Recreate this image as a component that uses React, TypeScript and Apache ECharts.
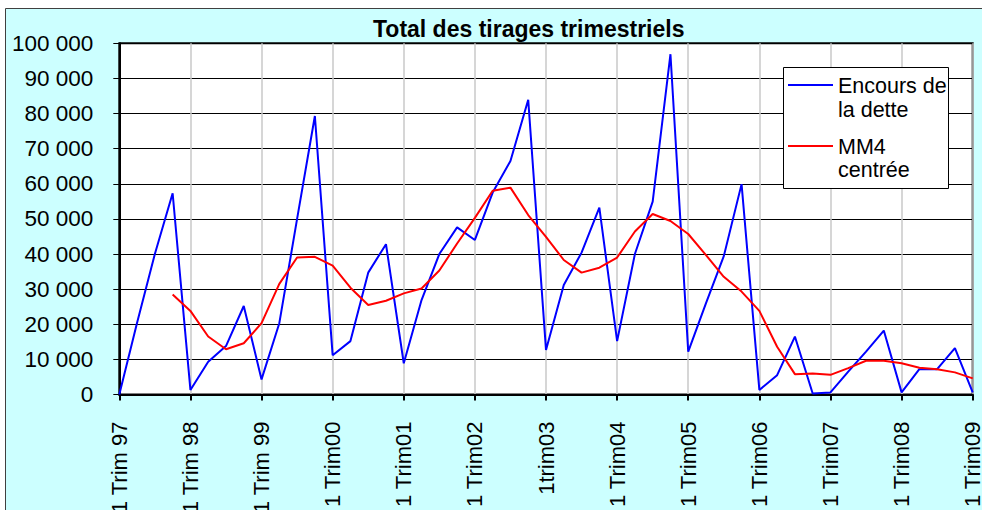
import React, { useEffect, useRef } from "react";
import * as echarts from "echarts";

// Quarterly categories (only the first quarter of each year is labelled)
const categories: string[] = [
  "1 Trim 97", "2 Trim 97", "3 Trim 97", "4 Trim 97",
  "1 Trim 98", "2 Trim 98", "3 Trim 98", "4 Trim 98",
  "1 Trim 99", "2 Trim 99", "3 Trim 99", "4 Trim 99",
  "1 Trim00", "2 Trim00", "3 Trim00", "4 Trim00",
  "1 Trim01", "2 Trim01", "3 Trim01", "4 Trim01",
  "1 Trim02", "2 Trim02", "3 Trim02", "4 Trim02",
  "1trim03", "2trim03", "3trim03", "4trim03",
  "1 Trim04", "2 Trim04", "3 Trim04", "4 Trim04",
  "1 Trim05", "2 Trim05", "3 Trim05", "4 Trim05",
  "1 Trim06", "2 Trim06", "3 Trim06", "4 Trim06",
  "1 Trim07", "2 Trim07", "3 Trim07", "4 Trim07",
  "1 Trim08", "2 Trim08", "3 Trim08", "4 Trim08",
  "1 Trim09",
];

// Encours de la dette (quarterly totals)
const encours: number[] = [
  0, 20400, 40000, 57300,
  1300, 9300, 13800, 25200,
  4300, 20300, 50000, 79300,
  11200, 15200, 34700, 42800,
  8900, 26900, 40000, 47600,
  44000, 57500, 66500, 83900,
  12700, 31200, 40400, 53200,
  15200, 40000, 54900, 96900,
  12200, 26000, 39400, 59900,
  1300, 5500, 16500, 300,
  600, 6500, 12200, 18200,
  600, 7200, 7200, 13200,
  600,
];

// MM4 centrée (centred 4-quarter moving average), starting at 4 Trim 97
const mm4: (number | null)[] = [
  null, null, null, 28500,
  23800, 16500, 12900, 14600,
  20300, 31500, 39000, 39200,
  36700, 30400, 25500, 26700,
  28800, 30200, 35300, 43000,
  50300, 58000, 58900, 51100,
  44900, 38300, 34700, 36100,
  39000, 46400, 51400, 49400,
  45700, 39700, 33500, 29300,
  23800, 13600, 5800, 6000,
  5600, 7500, 9600, 9600,
  8900, 7600, 7200, 6300,
  4600,
];

const titleText = "Total des tirages trimestriels";
const legendNames = ["Encours de\nla dette", "MM4\ncentrée"];

const FONT = "'Liberation Sans', Arial, sans-serif";

function formatThousands(v: number): string {
  return String(v).replace(/\B(?=(\d{3})+(?!\d))/g, " ");
}

export default function App() {
  const ref = useRef<HTMLDivElement>(null);

  useEffect(() => {
    document.body.style.margin = "0";
    if (!ref.current) return;
    const chart = echarts.init(ref.current, undefined, { renderer: "svg" });

    const legendX = 783.5;
    const legendY = 67.5;

    chart.setOption({
      animation: false,
      backgroundColor: "#ffffff",
      textStyle: { fontFamily: FONT },
      grid: {
        left: 119.3,
        right: 9.3,
        top: 43.3,
        bottom: 115.5,
        show: true,
        backgroundColor: "#ffffff",
        borderColor: "#000000",
        borderWidth: 2,
        containLabel: false,
        outerBoundsMode: "none",
      },
      xAxis: {
        type: "category",
        data: categories,
        boundaryGap: false,
        axisLine: { show: true, lineStyle: { color: "#000", width: 2 } },
        axisTick: {
          show: true,
          interval: 3,
          length: 6,
          lineStyle: { color: "#000", width: 2 },
        },
        axisLabel: {
          interval: 3,
          rotate: 90,
          margin: 27,
          color: "#000",
          fontSize: 22,
          fontFamily: FONT,
          hideOverlap: false,
        },
        splitLine: {
          show: true,
          interval: 3,
          lineStyle: { color: "#c8c8c8", width: 1.5 },
        },
      },
      yAxis: {
        type: "value",
        min: 0,
        max: 100000,
        interval: 10000,
        axisLine: { show: true, lineStyle: { color: "#000", width: 2 } },
        axisTick: {
          show: true,
          length: 6,
          lineStyle: { color: "#000", width: 1 },
        },
        axisLabel: {
          margin: 26,
          color: "#000",
          fontSize: 22.5,
          fontFamily: FONT,
          formatter: (v: number) => formatThousands(v),
        },
        splitLine: { show: true, lineStyle: { color: "#000", width: 1 } },
      },
      series: [
        {
          name: legendNames[0],
          type: "line",
          data: encours,
          symbol: "none",
          lineStyle: { color: "#0000ff", width: 2 },
          itemStyle: { color: "#0000ff" },
          z: 3,
        },
        {
          name: legendNames[1],
          type: "line",
          data: mm4,
          symbol: "none",
          connectNulls: false,
          lineStyle: { color: "#ff0000", width: 2 },
          itemStyle: { color: "#ff0000" },
          z: 4,
        },
      ],
      graphic: [
        {
          type: "rect",
          z: -100,
          silent: true,
          shape: { x: 5.5, y: 8.5, width: 1000, height: 600 },
          style: { fill: "#ccffff", stroke: "#404040", lineWidth: 1 },
        },
        {
          type: "text",
          z: 10,
          x: 373,
          y: 29,
          style: {
            text: titleText,
            fill: "#000",
            font: `bold 23px ${FONT}`,
            textAlign: "left",
            textVerticalAlign: "middle",
          },
        },
        {
          type: "group",
          z: 100,
          children: [
            {
              type: "rect",
              z: 100,
              shape: { x: legendX, y: legendY, width: 165, height: 121 },
              style: { fill: "#ffffff", stroke: "#000", lineWidth: 1 },
            },
            {
              type: "line",
              z: 101,
              shape: { x1: 788, y1: 85, x2: 833, y2: 85 },
              style: { stroke: "#0000ff", lineWidth: 2 },
            },
            {
              type: "line",
              z: 101,
              shape: { x1: 788, y1: 146, x2: 833, y2: 146 },
              style: { stroke: "#ff0000", lineWidth: 2 },
            },
            {
              type: "text",
              z: 101,
              x: 838,
              y: 86,
              style: {
                text: "Encours de",
                fill: "#000",
                font: `21.5px ${FONT}`,
                textVerticalAlign: "middle",
              },
            },
            {
              type: "text",
              z: 101,
              x: 838,
              y: 110,
              style: {
                text: "la dette",
                fill: "#000",
                font: `21.5px ${FONT}`,
                textVerticalAlign: "middle",
              },
            },
            {
              type: "text",
              z: 101,
              x: 838,
              y: 147,
              style: {
                text: "MM4",
                fill: "#000",
                font: `21.5px ${FONT}`,
                textVerticalAlign: "middle",
              },
            },
            {
              type: "text",
              z: 101,
              x: 838,
              y: 170,
              style: {
                text: "centrée",
                fill: "#000",
                font: `21.5px ${FONT}`,
                textVerticalAlign: "middle",
              },
            },
          ],
        },
      ],
    });

    return () => {
      chart.dispose();
    };
  }, []);

  return <div ref={ref} style={{ width: 982, height: 510 }} />;
}
